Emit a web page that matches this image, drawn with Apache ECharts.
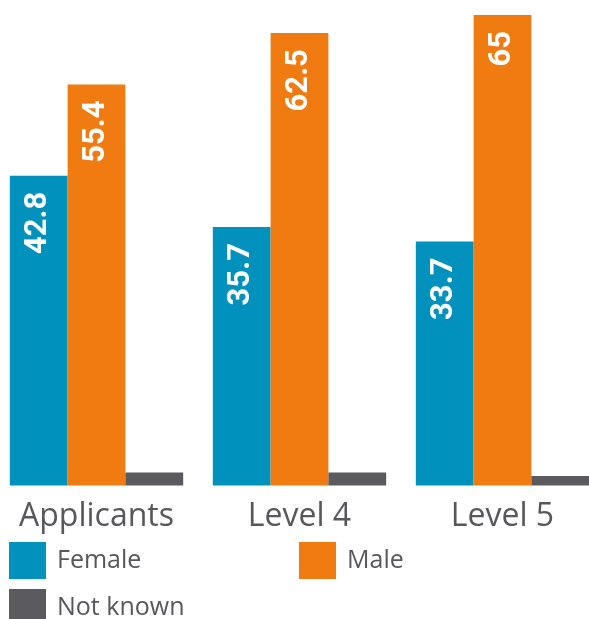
<!DOCTYPE html>
<html>
<head>
<meta charset="utf-8">
<script src="https://cdn.jsdelivr.net/npm/echarts@6/dist/echarts.min.js"></script>
<style>
html,body{margin:0;padding:0;background:#fff;}
#chart{width:589px;height:619px;}
</style>
</head>
<body>
<div id="chart"></div>
<script>
const categories = ['Applicants', 'Level 4', 'Level 5'];
const femaleValues = [42.8, 35.7, 33.7];
const maleValues = [55.4, 62.5, 65];
const notKnownValues = [1.8, 1.8, 1.3];
const seriesNames = ['Female', 'Male', 'Not known'];
const colors = ['#0091BD', '#EF7B11', '#5B5A5F'];

const chart = echarts.init(document.getElementById('chart'));
const valueLabel = {
  show: true,
  position: 'insideTop',
  distance: 16,
  rotate: 90,
  align: 'right',
  verticalAlign: 'middle',
  color: '#fff',
  fontFamily: 'Roboto',
  fontWeight: 'bold',
  fontSize: 31
};
const legendBase = {
  icon: 'path://M0 0H10V10H0Z',
  itemWidth: 37,
  itemHeight: 37,
  padding: 0,
  selectedMode: false,
  textStyle: { fontFamily: 'Open Sans', fontSize: 25, color: '#58585C', padding: [8, 0, 0, 6] }
};
chart.setOption({
  animation: false,
  color: colors,
  legend: [
    Object.assign({}, legendBase, { data: [seriesNames[0]], left: 9, top: 542 }),
    Object.assign({}, legendBase, { data: [seriesNames[1]], left: 299, top: 542 }),
    Object.assign({}, legendBase, { data: [seriesNames[2]], left: 9, top: 589 })
  ],
  grid: { left: -5, right: -15, top: 15, bottom: 133.5, containLabel: false, outerBoundsMode: 'none' },
  xAxis: {
    type: 'category',
    data: categories,
    axisLine: { show: false },
    axisTick: { show: false },
    axisLabel: { fontFamily: 'Open Sans', fontSize: 32, color: '#58585C', margin: 15 }
  },
  yAxis: {
    type: 'value',
    min: 0,
    max: 65,
    show: false,
    splitLine: { show: false }
  },
  series: [
    { name: seriesNames[0], type: 'bar', data: femaleValues, barGap: '0%', barCategoryGap: '14.6%', label: valueLabel },
    { name: seriesNames[1], type: 'bar', data: maleValues, barGap: '0%', barCategoryGap: '14.6%', label: valueLabel },
    { name: seriesNames[2], type: 'bar', data: notKnownValues, barGap: '0%', barCategoryGap: '14.6%', label: { show: false } }
  ]
});
</script>
</body>
</html>
